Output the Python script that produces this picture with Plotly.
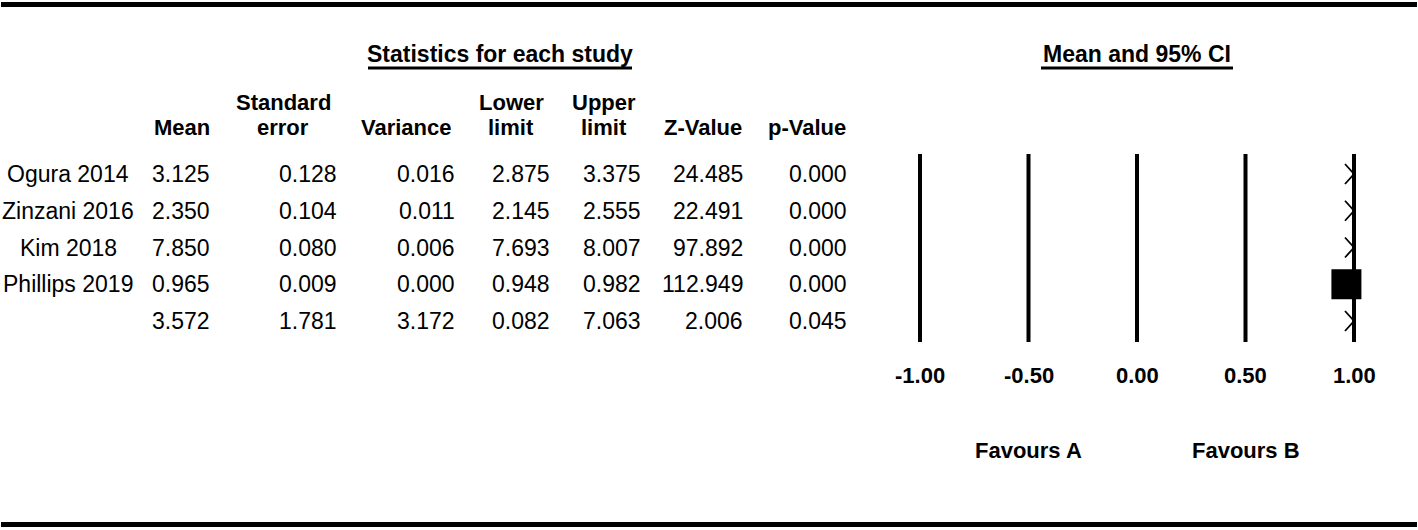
import plotly.graph_objects as go

# =========================
# DATA
# =========================
studies = ["Ogura 2014", "Zinzani 2016", "Kim 2018", "Phillips 2019", ""]
mean = [3.125, 2.350, 7.850, 0.965, 3.572]
std_err = [0.128, 0.104, 0.080, 0.009, 1.781]
variance = [0.016, 0.011, 0.006, 0.000, 3.172]
lower = [2.875, 2.145, 7.693, 0.948, 0.082]
upper = [3.375, 2.555, 8.007, 0.982, 7.063]
z_value = [24.485, 22.491, 97.892, 112.949, 2.006]
p_value = [0.000, 0.000, 0.000, 0.000, 0.045]

scale_ticks = [-1.0, -0.5, 0.0, 0.5, 1.0]
favours_labels = ["Favours A", "Favours B"]
favours_at = [-0.5, 0.5]

# =========================
# LAYOUT HELPERS (pixels -> axis / paper)
# =========================
W, H = 1418, 530
FONT = "Liberation Sans, Arial, sans-serif"
ROW0_PX, ROW_STEP = 174, 36.75      # centre of first study row, row spacing
X0_PX, UNIT_PX = 1137, 217          # pixel of 0.00 and pixels per unit
FOREST_L, FOREST_R = 880, 1400


def row_of(py):
    return (py - ROW0_PX) / ROW_STEP


def xp(px):
    return px / W


def yp(py):
    return 1 - py / H


n = len(studies)
rows = list(range(n))
scale_max = max(scale_ticks)

fig = go.Figure()

# vertical scale lines
vx, vy = [], []
for t in scale_ticks:
    vx += [t, t, None]
    vy += [row_of(154), row_of(342), None]
fig.add_trace(go.Scatter(x=vx, y=vy, mode="lines",
                         line=dict(color="black", width=4),
                         hoverinfo="skip", showlegend=False))

# confidence intervals / off-scale arrows
ax, ay = [], []
cx, cy = [], []
for i in rows:
    if mean[i] > scale_max:
        dx = 9 / UNIT_PX
        dy = 10 / ROW_STEP
        ax += [scale_max - dx, scale_max, scale_max - dx, None]
        ay += [i - dy, i, i + dy, None]
    else:
        cx += [lower[i], upper[i], None]
        cy += [i, i, None]
fig.add_trace(go.Scatter(x=ax, y=ay, mode="lines",
                         line=dict(color="black", width=1.8),
                         hoverinfo="skip", showlegend=False))
fig.add_trace(go.Scatter(x=cx, y=cy, mode="lines",
                         line=dict(color="black", width=2),
                         hoverinfo="skip", showlegend=False))

# point estimates on scale
on_scale = [i for i in rows if mean[i] <= scale_max]
fig.add_trace(go.Scatter(
    x=[mean[i] for i in on_scale], y=on_scale, mode="markers",
    marker=dict(symbol="square", size=30, color="black"),
    hovertemplate="%{x:.3f}<extra></extra>", showlegend=False))

# =========================
# TABLE TEXT
# =========================
ann = []


def txt(x, y, s, size=23, bold=False, xanchor="center", xref="paper", yref="y"):
    ann.append(dict(x=x, y=y, xref=xref, yref=yref, text=f"<b>{s}</b>" if bold else s,
                    showarrow=False, xanchor=xanchor, yanchor="middle",
                    font=dict(family=FONT, size=size, color="black")))


columns = [
    ("", "Mean", 182, 212, mean),
    ("Standard", "error", 283, 339, std_err),
    ("", "Variance", 406, 457, variance),
    ("Lower", "limit", 511, 552, lower),
    ("Upper", "limit", 604, 643, upper),
    ("", "Z-Value", 703, 745, z_value),
    ("", "p-Value", 807, 849, p_value),
]

for h1, h2, hc, vr, vals in columns:
    if h1:
        txt(xp(hc), row_of(102), h1, size=22, bold=True)
    txt(xp(hc), row_of(127), h2, size=22, bold=True)
    for i in rows:
        txt(xp(vr), i, f"{vals[i]:.3f}", xanchor="right")

for i in rows:
    if studies[i]:
        txt(xp(68), i, studies[i])

# section titles
txt(xp(500), row_of(54), "Statistics for each study", bold=True)
txt(xp(1137), row_of(54), "Mean and 95% CI", bold=True)

# scale labels
for t in scale_ticks:
    txt(t, row_of(375), f"{t:.2f}", size=22, bold=True, xref="x")
for lab, at in zip(favours_labels, favours_at):
    txt(at, row_of(450), lab, size=22, bold=True, xref="x")

# =========================
# SHAPES
# =========================
shapes = [
    dict(type="line", xref="paper", yref="paper", x0=xp(368), x1=xp(632),
         y0=yp(68), y1=yp(68), line=dict(color="black", width=3)),
    dict(type="line", xref="paper", yref="paper", x0=xp(1041), x1=xp(1233),
         y0=yp(68), y1=yp(68), line=dict(color="black", width=3)),
    dict(type="line", xref="paper", yref="paper", x0=xp(1), x1=xp(1417),
         y0=yp(4.5), y1=yp(4.5), line=dict(color="black", width=5)),
    dict(type="line", xref="paper", yref="paper", x0=xp(1), x1=xp(1417),
         y0=yp(524.5), y1=yp(524.5), line=dict(color="black", width=5)),
]

fig.update_layout(
    width=W, height=H,
    margin=dict(l=0, r=0, t=0, b=0),
    paper_bgcolor="white", plot_bgcolor="white",
    showlegend=False,
    annotations=ann,
    shapes=shapes,
    xaxis=dict(domain=[xp(FOREST_L), xp(FOREST_R)],
               range=[(FOREST_L - X0_PX) / UNIT_PX, (FOREST_R - X0_PX) / UNIT_PX],
               visible=False, fixedrange=True),
    yaxis=dict(domain=[0, 1], range=[row_of(H), row_of(0)],
               visible=False, fixedrange=True),
)

fig.write_html("out.html",
               config={"displayModeBar": False},
               post_script="document.body.style.margin='0';"
                           "document.body.style.overflow='hidden';")
